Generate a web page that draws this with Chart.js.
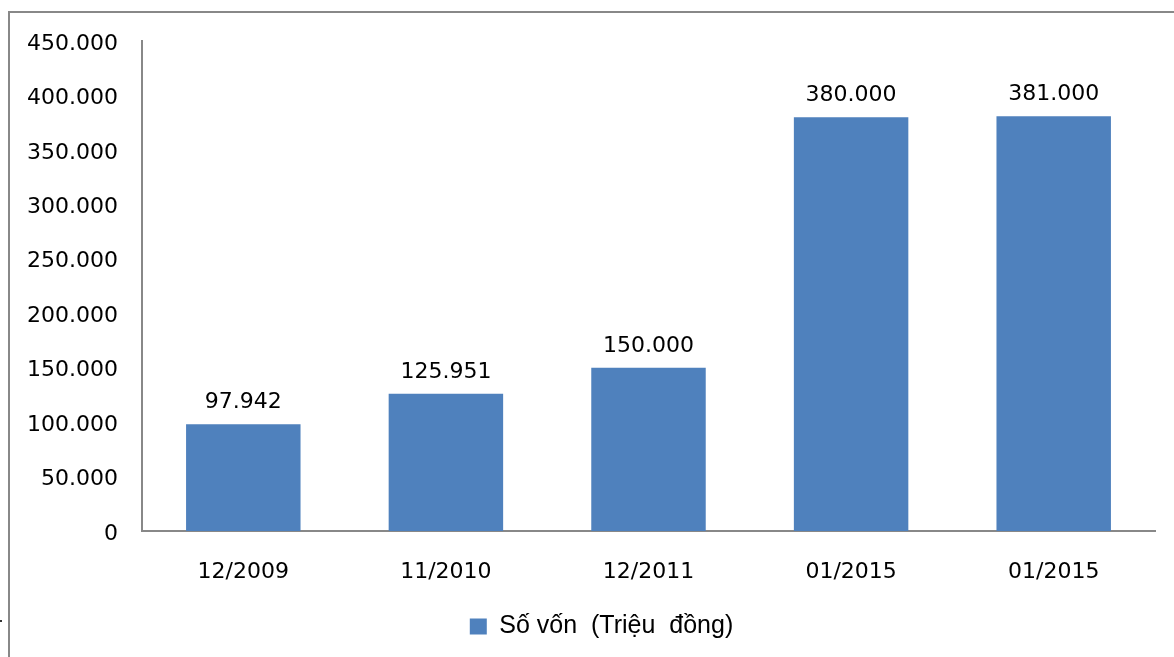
<!DOCTYPE html>
<html>
<head>
<meta charset="utf-8">
<script src="https://cdn.jsdelivr.net/npm/chart.js@4.4.0/dist/chart.umd.min.js"></script>
<style>
  html, body { margin: 0; padding: 0; background: #fff; }
  #wrap { width: 1174px; height: 657px; position: relative; }
</style>
</head>
<body>
<div id="wrap"><canvas id="mycanvas" width="1174" height="657"></canvas></div>
<script>
var thoi_diem = ['12/2009', '11/2010', '12/2011', '01/2015', '01/2015'];
var so_von = [97942, 125951, 150000, 380000, 381000];
var ten_series = 'Số vốn  (Triệu  đồng)';
var y_max = 450000;
var y_buoc = 50000;

function fmt(v) {
	return String(v).replace(/\B(?=(\d{3})+(?!\d))/g, '.');
}

// labels above the bars
var nhanGiaTri = {
	id: 'nhanGiaTri',
	afterDatasetsDraw: function(chart) {
		var ctx = chart.ctx;
		var meta = chart.getDatasetMeta(0);
		ctx.save();
		ctx.font = '22px "DejaVu Sans"';
		ctx.fillStyle = '#000';
		ctx.textAlign = 'center';
		ctx.textBaseline = 'alphabetic';
		meta.data.forEach(function(bar, i) {
			ctx.fillText(fmt(so_von[i]), bar.x, bar.y - 16);
		});
		ctx.restore();
	}
};

// frame of the chart object + legend shifted like the original
var khung = {
	id: 'khung',
	afterLayout: function(chart) {
		if (chart.legend) chart.legend.left = 48;
	},
	beforeDraw: function(chart) {
		var ctx = chart.ctx;
		ctx.save();
		ctx.strokeStyle = '#888';
		ctx.lineWidth = 2;
		ctx.beginPath();
		ctx.moveTo(9, 657);
		ctx.lineTo(9, 12);
		ctx.lineTo(1174, 12);
		ctx.stroke();
		ctx.fillStyle = '#333';
		ctx.fillRect(0, 620, 2, 2);
		ctx.restore();
	}
};

var chartdata = {
	labels: thoi_diem,
	datasets: [
		{
			label: ten_series,
			backgroundColor: '#4F81BD',
			borderWidth: 0,
			data: so_von,
			barPercentage: 0.565,
			categoryPercentage: 1.0
		}
	]
};

var ctx = document.getElementById('mycanvas');

var barGraph = new Chart(ctx, {
	type: 'bar',
	data: chartdata,
	plugins: [khung, nhanGiaTri],
	options: {
		responsive: false,
		animation: false,
		layout: { padding: { top: 41, right: 19, bottom: 8, left: 0 } },
		plugins: {
			tooltip: { enabled: false },
			legend: {
				position: 'bottom',
				labels: {
					color: '#000',
					font: { family: '"Liberation Sans", Arial', size: 25 },
					boxWidth: 17,
					boxHeight: 16,
					padding: 10
				}
			}
		},
		scales: {
			x: {
				grid: { display: false },
				border: { display: true, color: '#888', width: 2 },
				ticks: {
					color: '#000',
					font: { family: '"DejaVu Sans"', size: 22 },
					padding: 20,
					maxRotation: 0
				},
				afterFit: function(scale) { scale.height = 73; }
			},
			y: {
				min: 0,
				max: y_max,
				grid: { display: false },
				border: { display: true, color: '#888', width: 2 },
				ticks: {
					stepSize: y_buoc,
					color: '#000',
					font: { family: '"DejaVu Sans"', size: 22 },
					padding: 16,
					labelOffset: 3,
					callback: function(v) { return fmt(v); }
				},
				afterFit: function(scale) { scale.width = 142; }
			}
		}
	}
});
</script>
</body>
</html>
